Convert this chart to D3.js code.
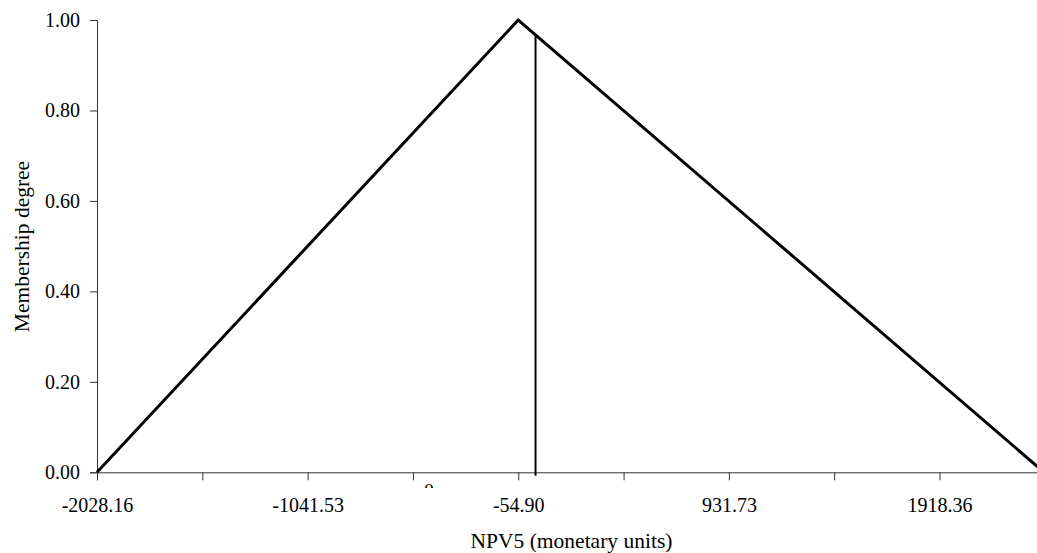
<!DOCTYPE html>
<html>
<head>
<meta charset="utf-8">
<script src="https://cdn.jsdelivr.net/npm/d3@7"></script>
<style>
  html, body { margin: 0; padding: 0; background: #fff; }
  svg { display: block; }
</style>
</head>
<body>
<svg id="chart" width="1037" height="553"></svg>
<script>
// ---- data ----
const xTickValues = [-2028.16, -1534.85, -1041.53, -548.22, -54.90, 438.42, 931.73, 1425.05, 1918.36];
const xTickLabels = ["-2028.16", "", "-1041.53", "", "-54.90", "", "931.73", "", "1918.36"];
const yTickValues = [0, 0.2, 0.4, 0.6, 0.8, 1.0];
const triangleX = [-2028.16, -54.90, 2408];
const triangleY = [0, 1, 0];
const xAxisMax = 2375;
const defuzzValue = 26;
const strayLabel = "0";
const strayLabelX = -473;
const xTitle = "NPV5 (monetary units)";
const yTitle = "Membership degree";

// ---- layout ----
(function () {
const FONT = "'Liberation Serif', 'Times New Roman', Times, serif";
const svg = d3.select("#chart");
const mLeft = 97, mRight = 1037, mTop = 20, mBottom = 472.3;
const x = d3.scaleLinear().domain([-2028.16, xAxisMax]).range([mLeft, mRight]);
const y = d3.scaleLinear().domain([0, 1]).range([mBottom, mTop]);

const defs = svg.append("defs");
defs.append("clipPath").attr("id", "plotclip")
  .append("rect").attr("x", mLeft - 5).attr("y", 0).attr("width", mRight - mLeft + 5).attr("height", mBottom + 10);
defs.append("clipPath").attr("id", "strayclip")
  .append("rect").attr("x", 0).attr("y", 0).attr("width", 1037).attr("height", 488);

// y axis
const yAxis = svg.append("g").attr("transform", `translate(${mLeft},0)`)
  .call(d3.axisLeft(y).tickValues(yTickValues).tickFormat(d3.format(".2f")).tickSize(7).tickPadding(10));
yAxis.attr("font-family", FONT).attr("font-size", 20);
yAxis.selectAll("text").style("font-family", FONT).style("font-size", "20px");
yAxis.selectAll("path, line").attr("stroke", "#333");

// x axis
const xAxis = svg.append("g").attr("transform", `translate(0,${mBottom})`)
  .call(d3.axisBottom(x).tickValues(xTickValues).tickFormat((d, i) => xTickLabels[i]).tickSizeOuter(0).tickSize(8));
xAxis.attr("font-family", FONT).attr("font-size", 20);
xAxis.selectAll("text").style("font-family", FONT).style("font-size", "20px").attr("y", 25.5);
xAxis.selectAll("path, line").attr("stroke", "#333");

// stray partially hidden label
svg.append("text").attr("clip-path", "url(#strayclip)")
  .attr("x", x(strayLabelX)).attr("y", 497.5).attr("text-anchor", "middle")
  .style("font-family", FONT).style("font-size", "20px").text(strayLabel);

// triangle membership function
const pts = triangleX.map((v, i) => [v, triangleY[i]]);
svg.append("path").datum(pts)
  .attr("clip-path", "url(#plotclip)")
  .attr("fill", "none").attr("stroke", "#000").attr("stroke-width", 3)
  .attr("stroke-linejoin", "miter")
  .attr("d", d3.line().x(d => x(d[0])).y(d => y(d[1])));

// defuzzified value vertical line
const mu = (triangleX[2] - defuzzValue) / (triangleX[2] - triangleX[1]);
svg.append("line")
  .attr("x1", x(defuzzValue)).attr("x2", x(defuzzValue))
  .attr("y1", y(0) + 3.5).attr("y2", y(mu))
  .attr("stroke", "#000").attr("stroke-width", 2);

// titles
svg.append("text").attr("x", 571.5).attr("y", 548).attr("text-anchor", "middle")
  .style("font-family", FONT).style("font-size", "21.5px").text(xTitle);
svg.append("text").attr("transform", "translate(29,246.5) rotate(-90)").attr("text-anchor", "middle")
  .style("font-family", FONT).style("font-size", "21.5px").text(yTitle);
})();
</script>
</body>
</html>
